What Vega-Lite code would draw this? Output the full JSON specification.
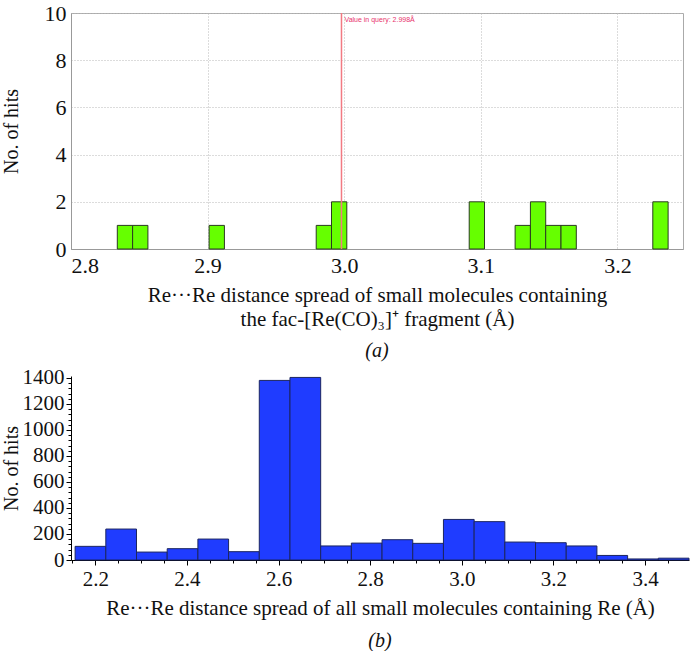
{
  "$schema": "https://vega.github.io/schema/vega-lite/v6.json",
  "padding": {"left": 0, "top": 1, "right": 0, "bottom": 0},
  "background": "white",
  "spacing": 4,
  "config": {
    "font": "Times New Roman, Liberation Serif, serif",
    "view": {"stroke": null},
    "axis": {"labelFont": "Times New Roman, Liberation Serif, serif", "titleFont": "Times New Roman, Liberation Serif, serif", "titleFontWeight": "normal", "labelColor": "#111", "titleColor": "#111"}
  },
  "vconcat": [
    {
      "width": 612,
      "height": 236,
      "view": {"stroke": "#aaaaaa"},
      "title": {"text": "(a)", "orient": "bottom", "font": "Times New Roman, Liberation Serif, serif", "fontStyle": "italic", "fontWeight": "normal", "fontSize": 20, "offset": 12, "color": "#111"},
      "layer": [
        {
          "data": {"values": [
            {"start": 2.8339, "end": 2.8451, "count": 1},
            {"start": 2.8451, "end": 2.8563, "count": 1},
            {"start": 2.9011, "end": 2.9123, "count": 1},
            {"start": 2.9795, "end": 2.9907, "count": 1},
            {"start": 2.9907, "end": 3.0019, "count": 2},
            {"start": 3.0915, "end": 3.1027, "count": 2},
            {"start": 3.1251, "end": 3.1363, "count": 1},
            {"start": 3.1363, "end": 3.1475, "count": 2},
            {"start": 3.1475, "end": 3.1587, "count": 1},
            {"start": 3.1587, "end": 3.1699, "count": 1},
            {"start": 3.2259, "end": 3.2371, "count": 2}
          ]},
          "mark": {"type": "rect", "fill": "#66ff00", "stroke": "#2b3a22", "strokeWidth": 1},
          "encoding": {
            "x": {"field": "start", "type": "quantitative",
              "scale": {"domain": [2.8, 3.248], "nice": false, "zero": false},
              "axis": {"values": [2.8, 2.9, 3.0, 3.1, 3.2], "format": ".1f", "grid": true, "gridDash": [1, 2], "gridColor": "#b8b8b8", "ticks": false, "domainColor": "#999999", "labelFontSize": 22, "labelPadding": 6,
                "title": ["Re···Re distance spread of small molecules containing", "the fac-[Re(CO)₃]⁺ fragment (Å)"], "titleFontSize": 21, "titleLineHeight": 24, "titlePadding": 8}},
            "x2": {"field": "end"},
            "y": {"field": "count", "type": "quantitative",
              "scale": {"domain": [0, 10], "nice": false},
              "axis": {"values": [0, 2, 4, 6, 8, 10], "grid": true, "gridDash": [1, 2], "gridColor": "#b8b8b8", "ticks": false, "domainColor": "#999999", "labelFontSize": 22, "labelPadding": 5, "minExtent": 48, "maxExtent": 48,
                "title": "No. of hits", "titleFontSize": 20, "titlePadding": 2}},
            "y2": {"datum": 0}
          }
        },
        {
          "data": {"values": [{"q": 2.998, "label": "Value in query: 2.998Å"}]},
          "mark": {"type": "rule", "color": "#f27a82", "strokeWidth": 1.5},
          "encoding": {"x": {"field": "q", "type": "quantitative"}}
        },
        {
          "data": {"values": [{"q": 2.998, "label": "Value in query: 2.998Å"}]},
          "mark": {"type": "text", "font": "Liberation Sans, Arial, sans-serif", "fontSize": 7, "color": "#e8336d", "align": "left", "baseline": "top", "dx": 3, "dy": 3},
          "encoding": {"x": {"field": "q", "type": "quantitative"}, "y": {"datum": 10}, "text": {"field": "label"}}
        }
      ]
    },
    {
      "width": 618,
      "height": 184,
      "title": {"text": "(b)", "orient": "bottom", "font": "Times New Roman, Liberation Serif, serif", "fontStyle": "italic", "fontWeight": "normal", "fontSize": 20, "offset": 13, "color": "#111"},
      "data": {"values": [
        {"start": 2.156, "end": 2.223, "count": 105},
        {"start": 2.223, "end": 2.290, "count": 238},
        {"start": 2.290, "end": 2.357, "count": 61},
        {"start": 2.357, "end": 2.424, "count": 87},
        {"start": 2.424, "end": 2.491, "count": 161},
        {"start": 2.491, "end": 2.558, "count": 64},
        {"start": 2.558, "end": 2.625, "count": 1381},
        {"start": 2.625, "end": 2.692, "count": 1404},
        {"start": 2.692, "end": 2.759, "count": 108},
        {"start": 2.759, "end": 2.826, "count": 130},
        {"start": 2.826, "end": 2.893, "count": 156},
        {"start": 2.893, "end": 2.960, "count": 128},
        {"start": 2.960, "end": 3.027, "count": 312},
        {"start": 3.027, "end": 3.094, "count": 295},
        {"start": 3.094, "end": 3.161, "count": 138},
        {"start": 3.161, "end": 3.228, "count": 133},
        {"start": 3.228, "end": 3.295, "count": 108},
        {"start": 3.295, "end": 3.362, "count": 35},
        {"start": 3.362, "end": 3.429, "count": 8},
        {"start": 3.429, "end": 3.496, "count": 14}
      ]},
      "resolve": {"axis": {"x": "independent", "y": "independent"}},
      "layer": [
        {
          "mark": {"type": "rect", "fill": "#1f3cff", "stroke": "#1b2560", "strokeWidth": 1},
          "encoding": {
            "x": {"field": "start", "type": "quantitative",
              "scale": {"domain": [2.147, 3.496], "nice": false, "zero": false},
              "axis": {"values": [2.2, 2.4, 2.6, 2.8, 3.0, 3.2, 3.4], "format": ".1f", "grid": false, "domainColor": "#000", "tickColor": "#000", "tickSize": 5, "labelFontSize": 21, "labelPadding": 3,
                "title": "Re···Re distance spread of all small molecules containing Re (Å)", "titleFontSize": 21, "titlePadding": 8}},
            "x2": {"field": "end"},
            "y": {"field": "count", "type": "quantitative",
              "scale": {"domain": [0, 1415], "nice": false},
              "axis": {"values": [0, 200, 400, 600, 800, 1000, 1200, 1400], "format": "d", "grid": false, "domainColor": "#000", "tickColor": "#000", "tickSize": 5, "labelFontSize": 21, "labelPadding": 2, "minExtent": 48, "maxExtent": 48,
                "title": "No. of hits", "titleFontSize": 20, "titlePadding": 2}},
            "y2": {"datum": 0}
          }
        },
        {
          "mark": {"type": "rect", "opacity": 0},
          "encoding": {
            "x": {"field": "start", "type": "quantitative",
              "axis": {"orient": "bottom", "values": [2.15, 2.25, 2.3, 2.35, 2.45, 2.5, 2.55, 2.65, 2.7, 2.75, 2.85, 2.9, 2.95, 3.05, 3.1, 3.15, 3.25, 3.3, 3.35, 3.45], "labels": false, "domain": false, "grid": false, "tickColor": "#000", "tickSize": 3, "title": null}},
            "x2": {"field": "end"},
            "y": {"field": "count", "type": "quantitative",
              "axis": {"orient": "left", "values": [40, 80, 120, 160, 240, 280, 320, 360, 440, 480, 520, 560, 640, 680, 720, 760, 840, 880, 920, 960, 1040, 1080, 1120, 1160, 1240, 1280, 1320, 1360], "labels": false, "domain": false, "grid": false, "tickColor": "#000", "tickSize": 3, "title": null}},
            "y2": {"datum": 0}
          }
        }
      ]
    }
  ]
}
